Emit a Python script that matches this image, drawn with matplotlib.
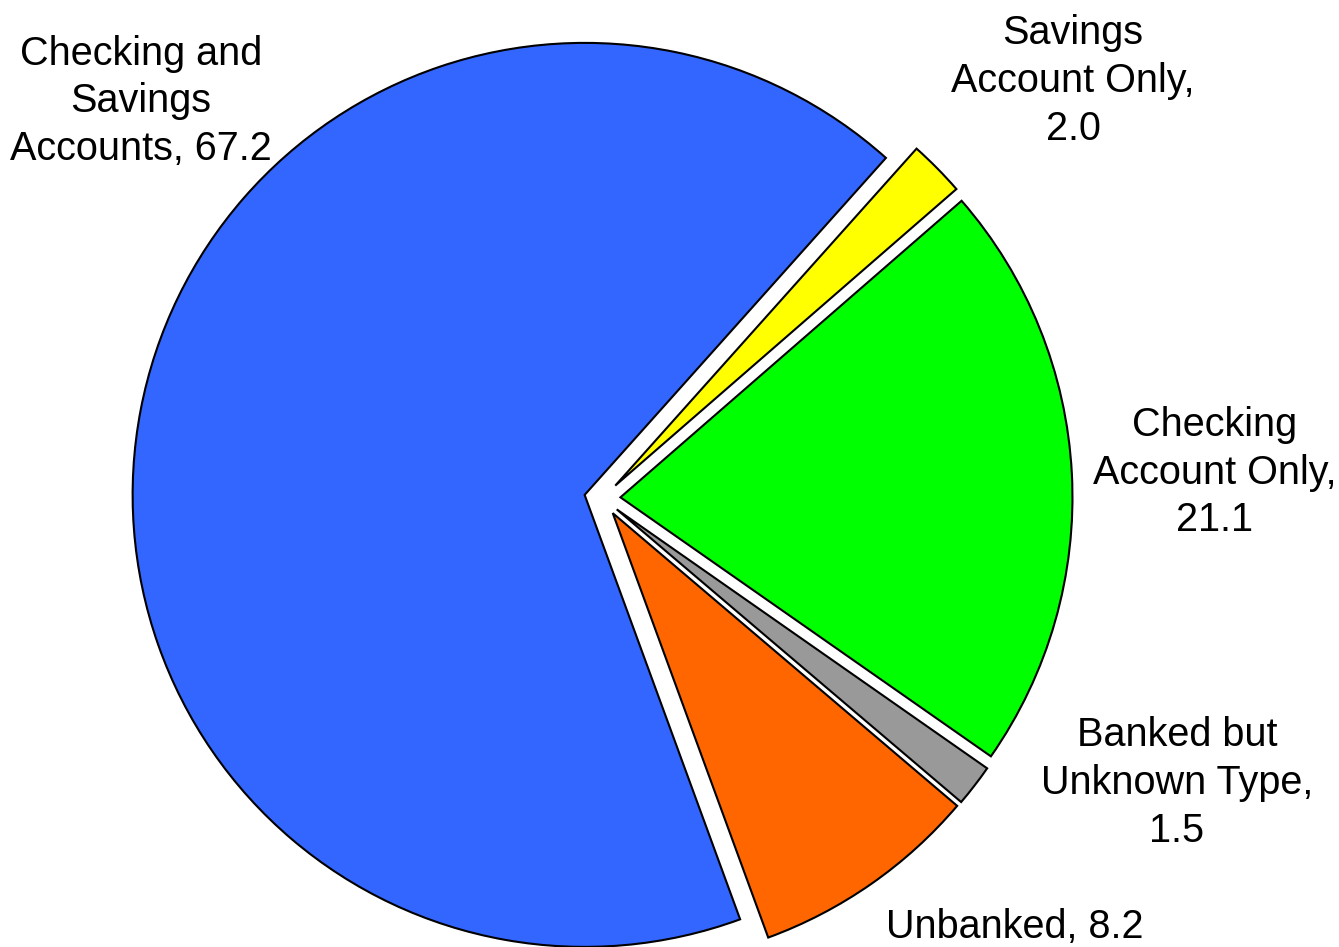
import numpy as np
import matplotlib
matplotlib.use("Agg")
import matplotlib.pyplot as plt

# account ownership shares (percent), drawn counterclockwise from the big slice
categories = ["Checking and Savings Accounts", "Unbanked", "Banked but Unknown Type",
              "Checking Account Only", "Savings Account Only"]
values = [67.2, 8.2, 1.5, 21.1, 2.0]
label_fmt = ["Checking and\nSavings\nAccounts, {:.1f}",
             "Unbanked, {:.1f}",
             "Banked but\nUnknown Type,\n{:.1f}",
             "Checking\nAccount Only,\n{:.1f}",
             "Savings\nAccount Only,\n{:.1f}"]
colors = ["#3366FF", "#FF6600", "#999999", "#00FF00", "#FFFF00"]

# where each label block sits (data units, pie radius = 1)
label_pos = [(-1.021, 0.878), (0.913, -0.948), (1.271, -0.629),
             (1.355, 0.057), (1.041, 0.924)]

plt.rcParams["font.family"] = ["Liberation Sans", "DejaVu Sans"]

fig = plt.figure(figsize=(13.39, 9.47), dpi=100)
ax = fig.add_axes([0, 0, 1, 1])

ax.pie(values, explode=[0.04] * len(values), colors=colors, startangle=48.2,
       counterclock=True,
       wedgeprops=dict(edgecolor="black", linewidth=1.5))

for fmt, v, (x, y) in zip(label_fmt, values, label_pos):
    ax.text(x, y, fmt.format(v), ha="center", va="center", fontsize=28.5,
            linespacing=1.33, color="black")

ax.set_xlim(-1.3327, 1.6296)
ax.set_ylim(-0.9927, 1.1024)
ax.set_aspect("auto")
ax.axis("off")

fig.savefig("out.png", dpi=100, facecolor="white")
